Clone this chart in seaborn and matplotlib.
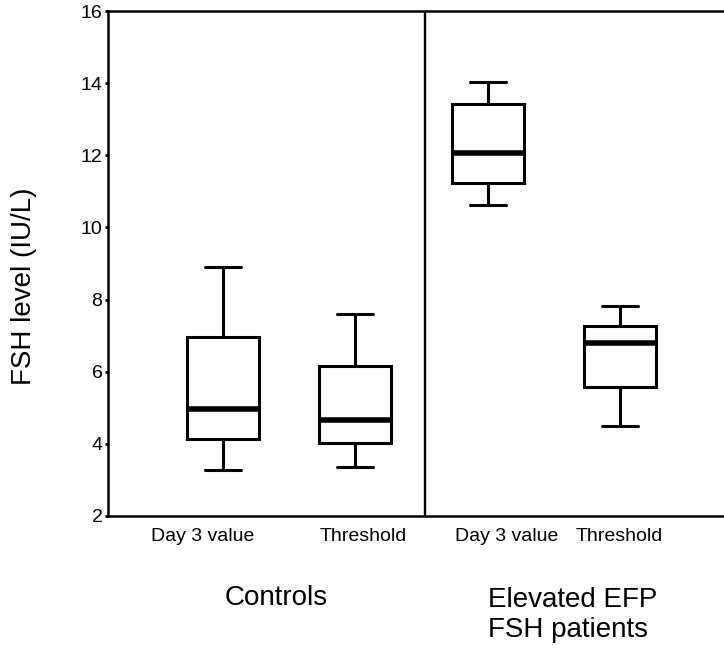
import matplotlib
matplotlib.use("Agg")
import matplotlib.pyplot as plt
import seaborn as sns
import pandas as pd

# ---- data ----
groups = ["Controls", "Controls", "Elevated EFP FSH patients", "Elevated EFP FSH patients"]
measures = ["Day 3 value", "Threshold", "Day 3 value", "Threshold"]
box_min = [3.28, 3.37, 10.62, 4.50]
box_q1 = [4.13, 4.03, 11.22, 5.58]
box_median = [4.97, 4.65, 12.06, 6.79]
box_q3 = [6.96, 6.16, 13.42, 7.27]
box_max = [8.90, 7.59, 14.02, 7.82]
y_ticks = [2, 4, 6, 8, 10, 12, 14, 16]
group_labels = ["Controls", "Elevated EFP\nFSH patients"]
y_label = "FSH level (IU/L)"

rows = []
order = []
for g, m, a, b, c, d, e in zip(groups, measures, box_min, box_q1, box_median, box_q3, box_max):
    key = f"{g} | {m}"
    order.append(key)
    for v in (a, b, c, d, e):
        rows.append({"box": key, "group": g, "measure": m, "FSH": v})
df = pd.DataFrame(rows)

sns.set_style("white")
plt.rcParams["font.family"] = ["Liberation Sans", "DejaVu Sans"]
plt.rcParams["text.color"] = "black"
plt.rcParams["xtick.color"] = "black"
plt.rcParams["ytick.color"] = "black"
plt.rcParams["axes.labelcolor"] = "black"

fig = plt.figure(figsize=(7.24, 6.48), dpi=100)
ax = fig.add_axes([108 / 724, 1 - 516 / 648, 1 - 108 / 724, (516 - 11) / 648])

sns.boxplot(
    data=df, x="box", y="FSH", order=order, ax=ax,
    whis=(0, 100), width=0.545, color="white", linecolor="black",
    linewidth=2.2, fill=True,
    medianprops=dict(linewidth=4.0, color="black"),
)

ax.set_ylim(2, 16)
ax.set_xlim(-0.869, 3.787)
ax.set_yticks(y_ticks)
ax.set_yticklabels([str(t) for t in y_ticks], fontsize=14, color="black")
ax.set_xticks([-0.151, 1.062, 2.141, 2.999])
ax.set_xticklabels(measures, fontsize=14, color="black")
ax.tick_params(axis="x", length=0, pad=8.5)
ax.tick_params(axis="y", length=2, width=2, pad=2, left=True, colors="black")
ax.set_xlabel("")
ax.set_ylabel("")

for side in ("left", "top", "bottom"):
    ax.spines[side].set_visible(True)
    ax.spines[side].set_color("black")
    ax.spines[side].set_linewidth(1.8)
ax.spines["right"].set_visible(False)

ax.axvline(1.527, color="black", linewidth=1.7)

fig.text(24 / 724, 1 - 286 / 648, y_label, rotation=90, ha="center", va="center",
         fontsize=20, color="black")
fig.text(276 / 724, 1 - 598 / 648, group_labels[0], ha="center", va="center",
         fontsize=20, color="black")
fig.text(488 / 724, 1 - 615 / 648, group_labels[1], ha="left", va="center", fontsize=20,
         multialignment="left", linespacing=1.2, color="black")

fig.savefig("out.png", dpi=100)
